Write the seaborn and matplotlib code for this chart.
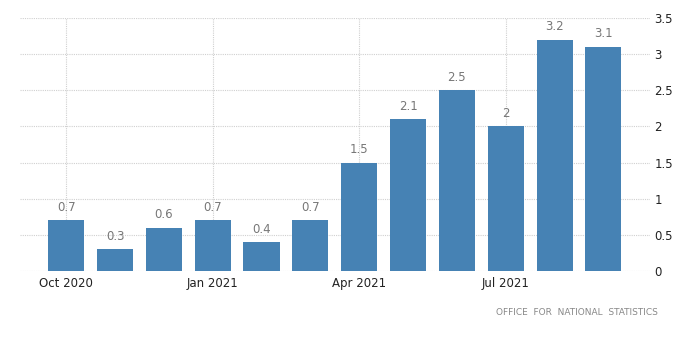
import matplotlib
matplotlib.use("Agg")
import matplotlib.pyplot as plt
import seaborn as sns

months = ["Oct 2020", "Nov 2020", "Dec 2020", "Jan 2021", "Feb 2021", "Mar 2021",
          "Apr 2021", "May 2021", "Jun 2021", "Jul 2021", "Aug 2021", "Sep 2021"]
values = [0.7, 0.3, 0.6, 0.7, 0.4, 0.7, 1.5, 2.1, 2.5, 2.0, 3.2, 3.1]
tick_labels = ["Oct 2020", "Jan 2021", "Apr 2021", "Jul 2021"]
y_ticks = [0, 0.5, 1, 1.5, 2, 2.5, 3, 3.5]

sns.set_style("white")
plt.rcParams["font.family"] = ["DejaVu Sans"]

fig = plt.figure(figsize=(7, 3.6), dpi=100)
ax = fig.add_axes([0.029, 0.247, 0.9, 0.703])

sns.barplot(x=months, y=values, color="#4682b4", saturation=1, width=0.74,
            linewidth=0, ax=ax, zorder=3)

for i, v in enumerate(values):
    ax.text(i, v + 0.09, f"{v:g}", ha="center", va="bottom", fontsize=8.5, color="#777777")

ax.set_xlim(-0.94, 11.96)
ax.set_ylim(0, 3.5)
ax.set_xticks([months.index(t) for t in tick_labels])
ax.set_xticklabels(tick_labels, fontsize=8.5, color="#222222")
ax.yaxis.tick_right()
ax.set_yticks(y_ticks)
ax.set_yticklabels([f"{t:g}" for t in y_ticks], fontsize=8.5, color="#222222")
ax.tick_params(axis="both", length=0, pad=4)
ax.tick_params(axis="y", pad=3)
ax.grid(True, color="#d0d0d0", linestyle=(0, (1, 1)), linewidth=0.8, zorder=0)
for s in ax.spines.values():
    s.set_visible(False)
ax.set_xlabel("")
ax.set_ylabel("")

fig.text(0.94, 0.133, "OFFICE  FOR  NATIONAL  STATISTICS", ha="right", va="center",
         fontsize=6.5, color="#888888")

fig.savefig("out.png", dpi=100)
